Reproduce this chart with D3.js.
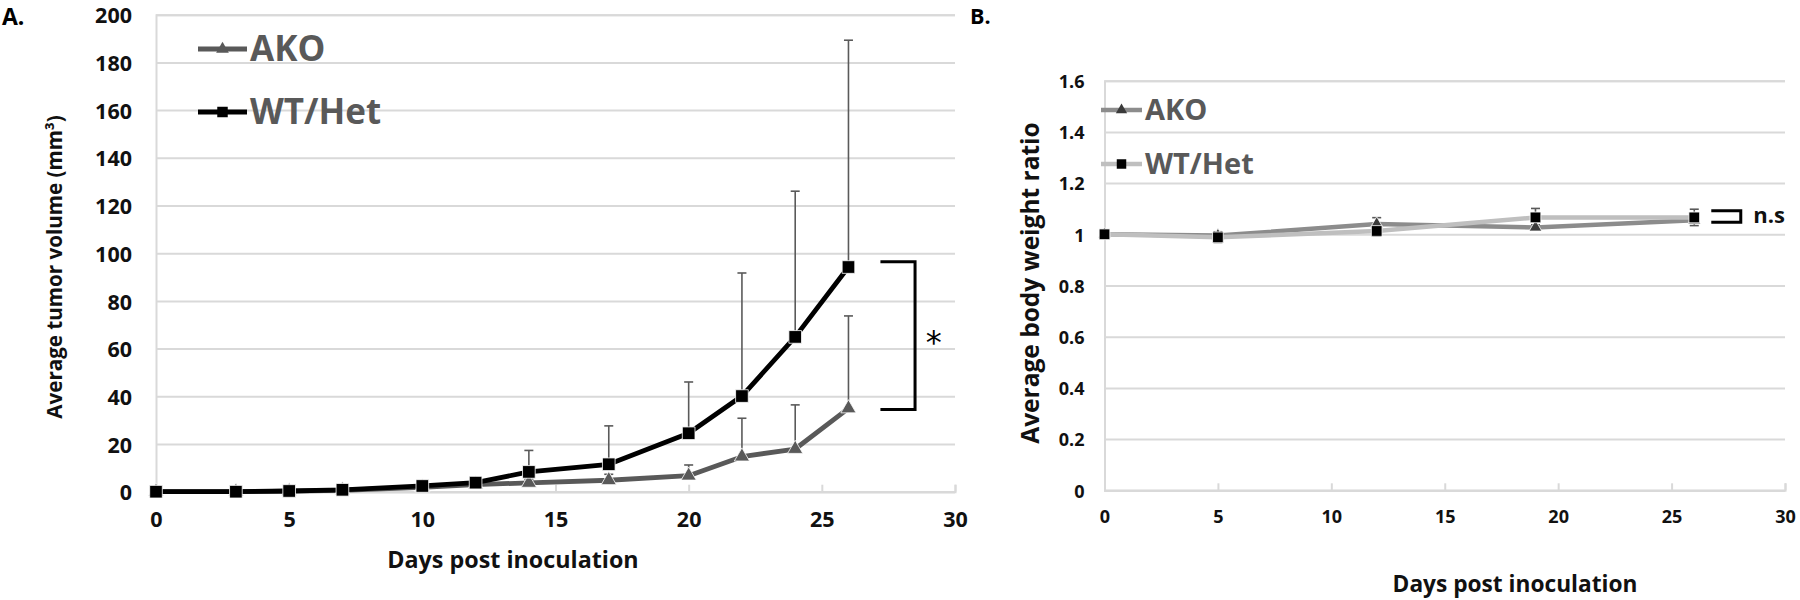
<!DOCTYPE html>
<html>
<head>
<meta charset="utf-8">
<script src="https://cdn.jsdelivr.net/npm/d3@7"></script>
<style>
  html, body { margin: 0; padding: 0; background: #fff; }
  svg { display: block; font-family: "Open Sans", sans-serif; }
</style>
</head>
<body>
<svg id="chart" width="1800" height="600"></svg>
<script>
// ---------- Panel A data: tumor volume ----------
const daysA = [0, 3, 5, 7, 10, 12, 14, 17, 20, 22, 24, 26];
const akoA = [0, 0, 0.2, 0.6, 1.8, 3.0, 3.7, 4.8, 6.7, 14.7, 17.9, 34.9];
const akoErrA = [0, 0, 0, 0.3, 0.6, 1.0, 1.5, 2.5, 4.5, 16.1, 18.5, 38.8];
const wtA = [0, 0, 0.3, 0.8, 2.4, 3.8, 8.3, 11.5, 24.5, 40.1, 64.9, 94.2];
const wtErrA = [0, 0, 0.2, 0.5, 1.2, 2.0, 9.0, 16.1, 21.5, 51.6, 61.1, 95.1];
const yTicksA = [0, 20, 40, 60, 80, 100, 120, 140, 160, 180, 200];
const xTicks = [0, 5, 10, 15, 20, 25, 30];
const bracketA = [96.4, 34.5];

// ---------- Panel B data: body weight ratio ----------
const daysB = [0, 5, 12, 19, 26];
const akoB = [1.0, 0.995, 1.04, 1.027, 1.055];
const akoErrB = [0, 0.015, 0.025, 0.01, 0.01];
const wtB = [1.0, 0.988, 1.013, 1.066, 1.066];
const wtErrB = [0, 0.02, 0.02, 0.035, 0.032];
const yTicksB = [0, 0.2, 0.4, 0.6, 0.8, 1, 1.2, 1.4, 1.6];
const bracketB = [1.092, 1.047];

const seriesNames = ["AKO", "WT/Het"];

const svg = d3.select("#chart");
const grid = "#d9d9d9";
const dark = "#595959";

function panel(opts) {
  const g = svg.append("g");
  const x = d3.scaleLinear().domain([0, 30]).range(opts.xr);
  const y = d3.scaleLinear().domain([opts.yTicks[0], opts.yTicks[opts.yTicks.length - 1]]).range(opts.yr);

  const yAxisG = g.append("g").attr("transform", `translate(${opts.xr[0]},0)`)
    .call(d3.axisLeft(y).tickValues(opts.yTicks).tickSize(-(opts.xr[1] - opts.xr[0])).tickPadding(opts.yPad).tickFormat(d => d3.format("~g")(d)));
  yAxisG.select(".domain").attr("stroke", grid).attr("stroke-width", 2);
  yAxisG.selectAll(".tick line").attr("stroke", grid).attr("stroke-width", 2);
  yAxisG.selectAll(".tick text").attr("fill", "#111").attr("font-size", opts.tickFont).attr("font-weight", 700)
    .attr("font-family", "Open Sans").attr("dy", "0.38em");

  const xAxisG = g.append("g").attr("transform", `translate(0,${opts.yr[0]})`)
    .call(d3.axisBottom(x).tickValues(xTicks).tickSize(-7).tickPadding(opts.xPad).tickFormat(d3.format("d")));
  xAxisG.select(".domain").attr("stroke", grid).attr("stroke-width", 2);
  xAxisG.selectAll(".tick line").attr("stroke", grid).attr("stroke-width", 2);
  xAxisG.selectAll(".tick text").attr("fill", "#111").attr("font-size", opts.tickFont).attr("font-weight", 700).attr("font-family", "Open Sans");

  const line = d3.line().x(d => x(d[0])).y(d => y(d[1]));
  const sq = d3.symbol().type(d3.symbolSquare).size(opts.sqSize);
  const tri = d3.symbol().type(d3.symbolTriangle).size(opts.triSize);

  function errBars(days, vals, errs, color, sym) {
    days.forEach((d, i) => {
      if (errs[i] <= 0) return;
      const top = y(vals[i] + errs[i]);
      const bot = sym ? y(vals[i] - errs[i]) : y(vals[i]);
      g.append("line").attr("x1", x(d)).attr("x2", x(d)).attr("y1", top).attr("y2", bot)
        .attr("stroke", color).attr("stroke-width", 1.6);
      g.append("line").attr("x1", x(d) - 4.5).attr("x2", x(d) + 4.5).attr("y1", top).attr("y2", top)
        .attr("stroke", color).attr("stroke-width", 1.6);
      if (sym) g.append("line").attr("x1", x(d) - 4.5).attr("x2", x(d) + 4.5).attr("y1", bot).attr("y2", bot)
        .attr("stroke", color).attr("stroke-width", 1.6);
    });
  }
  errBars(opts.days, opts.ako, opts.akoErr, opts.errColor, opts.symErr);
  errBars(opts.days, opts.wt, opts.wtErr, opts.errColor, opts.symErr);

  const akoPts = opts.days.map((d, i) => [d, opts.ako[i]]);
  const wtPts = opts.days.map((d, i) => [d, opts.wt[i]]);
  const drawSeries = (pts, lineColor, markColor, symb) => {
    g.append("path").datum(pts).attr("d", line).attr("fill", "none")
      .attr("stroke", lineColor).attr("stroke-width", opts.lineW).attr("stroke-linejoin", "round");
    g.selectAll(null).data(pts).enter().append("path")
      .attr("transform", d => `translate(${x(d[0])},${y(d[1])})`)
      .attr("d", symb).attr("fill", markColor).attr("stroke", "#fff").attr("stroke-width", 0.8);
  };
  drawSeries(akoPts, opts.akoLine, opts.akoMark, tri);
  drawSeries(wtPts, opts.wtLine, opts.wtMark, sq);

  const bx1 = x(opts.bracketX[0]), bx2 = x(opts.bracketX[1]);
  g.append("path").attr("d", opts.bracketShape(bx1, bx2, y(opts.bracket[0]), y(opts.bracket[1])))
    .attr("fill", "none").attr("stroke", "#000").attr("stroke-width", opts.bracketW);

  const lg = opts.legend;
  [[seriesNames[0], opts.akoLine, opts.akoMark, d3.symbolTriangle, lg.y[0], lg.triSize],
   [seriesNames[1], opts.wtLine, opts.wtMark, d3.symbolSquare, lg.y[1], lg.sqSize]].forEach(([name, lc, mc, s, ly, ms]) => {
    g.append("line").attr("x1", lg.x0).attr("x2", lg.x1).attr("y1", ly).attr("y2", ly)
      .attr("stroke", lc).attr("stroke-width", opts.lineW);
    g.append("path").attr("transform", `translate(${(lg.x0 + lg.x1) / 2},${ly})`)
      .attr("d", d3.symbol().type(s).size(ms)).attr("fill", mc);
    g.append("text").attr("x", lg.tx).attr("y", ly + lg.dy).text(name)
      .attr("font-size", lg.font).attr("font-weight", 700).attr("fill", dark);
  });

  return { g, x, y };
}

const A = panel({
  xr: [156, 955], yr: [491.7, 14.7], yTicks: yTicksA, tickFont: 21.5, yPad: 24, xPad: 20,
  days: daysA, ako: akoA, akoErr: akoErrA, wt: wtA, wtErr: wtErrA, symErr: false,
  errColor: "#5a5a5a", lineW: 4.8, sqSize: 160, triSize: 100,
  akoLine: "#595959", akoMark: "#595959", wtLine: "#000", wtMark: "#000",
  bracket: bracketA, bracketX: [27.2, 28.5], bracketW: 3,
  bracketShape: (x1, x2, y1, y2) => `M${x1},${y1}H${x2}V${y2}H${x1}`,
  legend: { x0: 198, x1: 247, y: [49, 112], tx: 250, dy: 12, font: 35, triSize: 70, sqSize: 110 }
});
A.g.append("text").attr("x", A.x(29.2)).attr("y", A.y(65) + 16).attr("text-anchor", "middle")
  .attr("font-size", 32).attr("font-family", "DejaVu Sans").text("*");

const B = panel({
  xr: [1104.5, 1785], yr: [490.3, 80.7], yTicks: yTicksB, tickFont: 18, yPad: 20, xPad: 20,
  days: daysB, ako: akoB, akoErr: akoErrB, wt: wtB, wtErr: wtErrB, symErr: true,
  errColor: "#595959", lineW: 4.5, sqSize: 115, triSize: 70,
  akoLine: "#8c8c8c", akoMark: "#3a3a3a", wtLine: "#bfbfbf", wtMark: "#000",
  bracket: bracketB, bracketX: [26.75, 28.05], bracketW: 3,
  bracketShape: (x1, x2, y1, y2) => `M${x1},${y1}H${x2}V${y2}H${x1}`,
  legend: { x0: 1101, x1: 1142, y: [110, 164], tx: 1145, dy: 10, font: 29, triSize: 55, sqSize: 90 }
});
B.g.append("text").attr("x", B.x(28.6)).attr("y", B.y(1.07) + 7).attr("font-size", 22)
  .attr("font-weight", 700).attr("fill", "#111").text("n.s");

svg.append("text").attr("x", 513).attr("y", 568).attr("text-anchor", "middle")
  .attr("font-size", 23.3).attr("font-weight", 700).attr("fill", "#111").text("Days post inoculation");
svg.append("text").attr("transform", "translate(62,267) rotate(-90)").attr("text-anchor", "middle")
  .attr("font-size", 20.6).attr("font-weight", 700).attr("fill", "#111").text("Average tumor volume (mm³)");
svg.append("text").attr("x", 1515).attr("y", 592).attr("text-anchor", "middle")
  .attr("font-size", 22.7).attr("font-weight", 700).attr("fill", "#111").text("Days post inoculation");
svg.append("text").attr("transform", "translate(1039,283) rotate(-90)").attr("text-anchor", "middle")
  .attr("font-size", 24.5).attr("font-weight", 700).attr("fill", "#111").text("Average body weight ratio");
svg.append("text").attr("x", 2).attr("y", 25).attr("font-size", 23).attr("font-weight", 700).text("A.");
svg.append("text").attr("x", 970).attr("y", 23.5).attr("font-size", 21.5).attr("font-weight", 700).text("B.");
</script>
</body>
</html>
